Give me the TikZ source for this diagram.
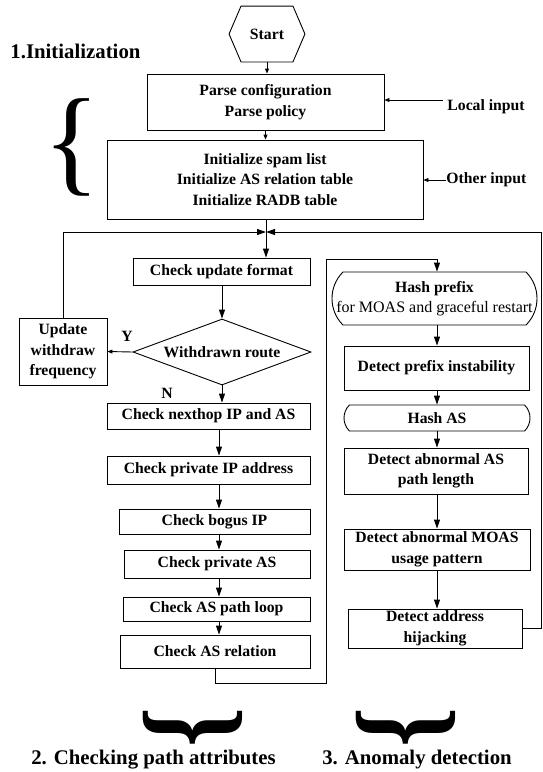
\documentclass[tikz,border=0pt]{standalone}
\usepackage{fontspec}
\setmainfont{Liberation Serif}
\usepackage{tikz}
\usetikzlibrary{shapes,arrows.meta,positioning,calc}
\tikzstyle{block} = [rectangle, draw=black, align=center, inner sep=0pt]
\tikzstyle{rblock} = [rounded rectangle, rounded rectangle arc length=90, draw=black, align=center, inner sep=0pt]
\tikzstyle{arrow} = [-{Triangle[length=9pt, width=6pt]}]
\tikzstyle{sarrow} = [-{Triangle[length=5pt, width=4pt]}]
\tikzstyle{title} = [font=\fontsize{20.8}{24}\selectfont\bfseries]

\begin{document}
\begin{tikzpicture}[x=1pt, y=-1pt, line width=0.9pt, font=\fontsize{15.7}{20.5}\selectfont\bfseries]
\useasboundingbox (0,0) rectangle (543,772);

% 1. initialization
\node[minimum width=75pt, minimum height=55pt] (start) at (267,34) {Start};
\draw (start.west) -- ([xshift=12pt]start.north west) -- ([xshift=-12pt]start.north east) -- (start.east)
   -- ([xshift=-12pt]start.south east) -- ([xshift=12pt]start.south west) -- cycle;
\node[title, anchor=west, inner sep=0pt] (initlbl) at (10,51) {1.Initialization};
\node[block, minimum width=237pt, minimum height=56pt] (parse) at (265.5,102) {Parse configuration\\Parse policy};
\node[block, minimum width=316pt, minimum height=79pt] (initbox) at (265,179.5) {Initialize spam list\\Initialize AS relation table\\Initialize RADB table};
\node[anchor=west, inner sep=0pt] (local) at (447,107) {Local input};
\node[anchor=west, inner sep=0pt] (other) at (446,180) {Other input};
\coordinate (localend) at (443,100);
\node[font=\fontsize{118}{118}\selectfont\mdseries, inner sep=0pt] (lbrace) at (72,147) {\{};

\draw[sarrow] (start.south) -- (start.south |- parse.north);
\draw[sarrow] (parse.south) -- (parse.south |- initbox.north);
\draw[sarrow] (localend) -- (localend -| parse.east);
\draw[sarrow] (other.west) -- (other.west -| initbox.east);

% helper points
\coordinate (merge) at (266,232);
\coordinate (col2) at (326,259);
\coordinate (lc) at (219,0);
\coordinate (rc) at (437,0);

% 2. checking path attributes
\node[block, minimum width=177pt, minimum height=27pt] (checkfmt) at (221.5,271.5) {Check update format};
\node[diamond, draw, aspect=2.7, minimum width=178pt, minimum height=66pt, inner sep=0pt] (wdr) at (222,352) {Withdrawn route};
\node[block, minimum width=88pt, minimum height=67pt] (upd) at (63,351.5) {Update\\withdraw\\frequency};
\node (yes) at (127,336) {Y};
\node (no) at (167,393) {N};
\node[block, minimum width=203pt, minimum height=26pt] (nexthop) at (208.5,416) {Check nexthop IP and AS};
\node[block, minimum width=203pt, minimum height=28pt] (privip) at (208.5,470) {Check private IP address};
\node[block, minimum width=191pt, minimum height=25pt] (bogus) at (214.5,521.5) {Check bogus IP};
\node[block, minimum width=186pt, minimum height=28pt] (privas) at (217,564) {Check private AS};
\node[block, minimum width=187pt, minimum height=24pt] (pathloop) at (216.5,609) {Check AS path loop};
\node[block, minimum width=190pt, minimum height=33pt] (asrel) at (215,651.5) {Check AS relation};

\draw[arrow] (initbox.south -| merge) -- (checkfmt.north -| merge);
\draw[arrow] (upd.north) |- (merge);
\draw[arrow] (checkfmt.south -| wdr) -- (wdr.north);
\draw[sarrow] (wdr.west) -- (upd.east);
\draw[arrow] (wdr.south) -- (nexthop.north -| wdr);
\draw[arrow] (nexthop.south -| lc) -- (privip.north -| lc);
\draw[arrow] (privip.south -| lc) -- (bogus.north -| lc);
\draw[arrow] (bogus.south -| lc) -- (privas.north -| lc);
\draw[arrow] (privas.south -| lc) -- (pathloop.north -| lc);
\draw[arrow] (pathloop.south -| lc) -- (asrel.north -| lc);

% 3. anomaly detection
\node[rblock, minimum width=205pt, minimum height=53pt] (hashp) at (434.5,298.5) {Hash prefix\\{\mdseries\fontsize{16}{20.5}\selectfont\makebox[180pt]{for MOAS and graceful restart}}};
\node[block, minimum width=185pt, minimum height=44pt] (detpref) at (436.5,368) {Detect prefix instability};
\node[rblock, minimum width=186pt, minimum height=26pt] (hashas) at (437,418) {Hash AS};
\node[block, minimum width=184pt, minimum height=46pt] (abnas) at (436,471) {Detect abnormal AS\\path length};
\node[block, minimum width=186pt, minimum height=41pt] (abnmoas) at (437,549.5) {Detect abnormal MOAS\\usage pattern};
\node[block, minimum width=174pt, minimum height=39pt] (hijack) at (435,628.5) {Detect address\\hijacking};

\draw[arrow] (asrel.south) -- ++(0,15) -| (col2) -| (hashp.north -| rc);
\draw[arrow] (hashp.south -| rc) -- (detpref.north -| rc);
\draw[arrow] (detpref.south -| rc) -- (hashas.north -| rc);
\draw[arrow] (hashas.south -| rc) -- (abnas.north -| rc);
\draw[arrow] (abnas.south -| rc) -- (abnmoas.north -| rc);
\draw[arrow] (abnmoas.south -| rc) -- (hijack.north -| rc);
\draw[arrow] (hijack.east) -- ++(19,0) |- (merge);

% bottom braces
\node[rotate=90, font=\fontsize{120}{120}\selectfont\bfseries, inner sep=0pt] (brace2) at (193,727) {\scalebox{0.85}[1]{\{}};
\node[rotate=90, font=\fontsize{120}{120}\selectfont\bfseries, inner sep=0pt] (brace3) at (406,727) {\scalebox{0.85}[1]{\{}};
\node[title] (chklbl) at (153.5,760) {2. Checking path attributes};
\node[title] (anolbl) at (417,760) {3. Anomaly detection};
\end{tikzpicture}
\end{document}
